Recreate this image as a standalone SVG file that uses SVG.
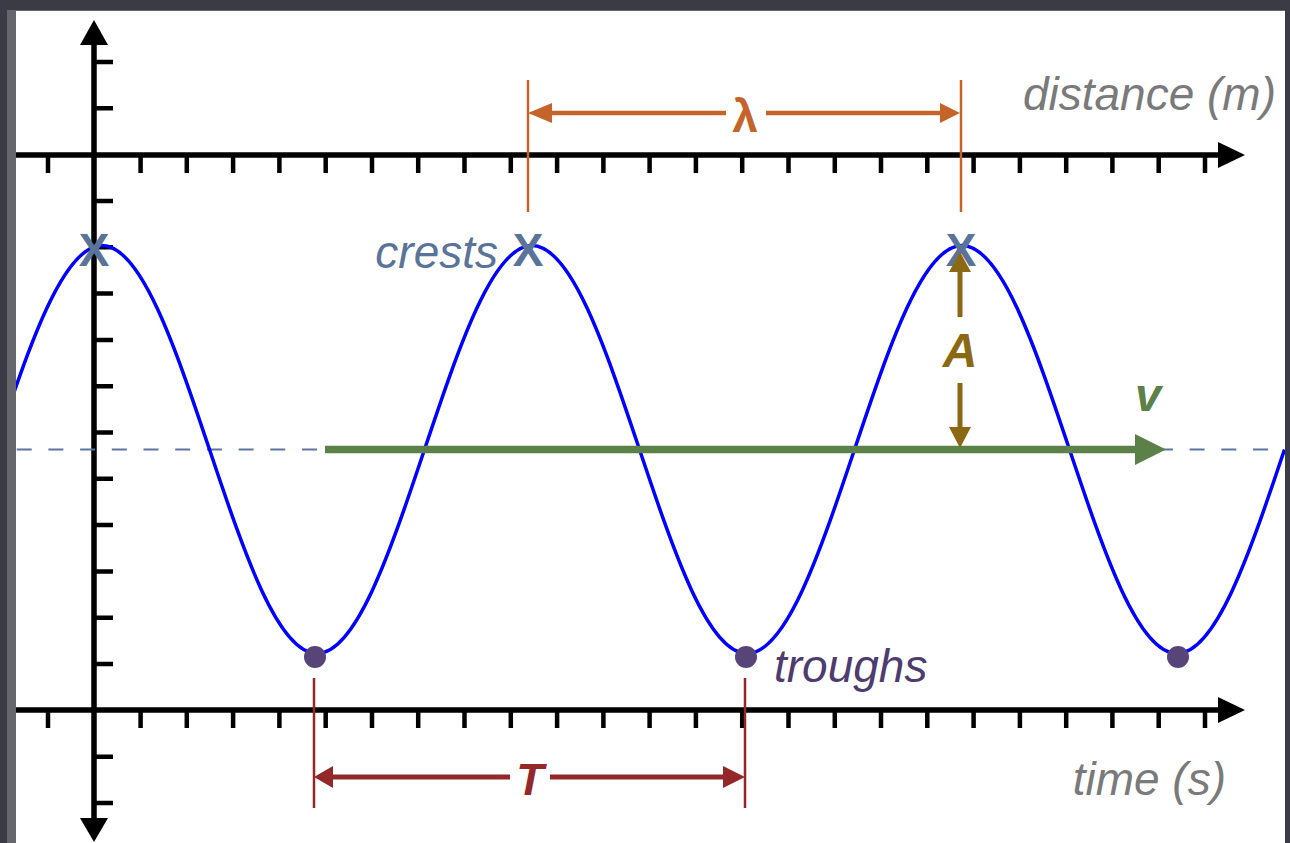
<svg xmlns="http://www.w3.org/2000/svg" width="1290" height="843" viewBox="0 0 1290 843">
<style>
.lbl{font-family:"Liberation Sans",Arial,sans-serif;font-style:italic;font-size:46px}
.sym{font-family:"Liberation Sans",Arial,sans-serif;font-weight:bold;font-style:italic}
.axis{stroke:#000;stroke-width:5.5;fill:none}
.tick{stroke:#000;stroke-width:4.5;fill:none}
</style>
<defs>
<clipPath id="plot"><rect x="16" y="11" width="1269" height="832"/></clipPath>
<path id="hticks" d="M48 155v18M140.6 155v18M186.8 155v18M233.1 155v18M279.4 155v18M325.7 155v18M372 155v18M418.2 155v18M464.5 155v18M510.8 155v18M557.1 155v18M603.4 155v18M649.6 155v18M695.9 155v18M742.2 155v18M788.5 155v18M834.8 155v18M881 155v18M927.3 155v18M973.6 155v18M1019.9 155v18M1066.2 155v18M1112.4 155v18M1158.7 155v18M1205 155v18"/>
</defs>
<rect x="0" y="0" width="1290" height="843" fill="#3b3b46"/>
<rect x="7" y="10" width="1278" height="833" fill="#66666d"/>
<rect x="16" y="11" width="1269" height="832" fill="#ffffff"/>

<g id="axes">
<use href="#hticks" class="tick"/>
<use href="#hticks" class="tick" transform="translate(0 555)"/>
<path class="tick" d="M94 62h19M94 108.3h19M94 200.9h19M94 247.2h19M94 293.6h19M94 339.9h19M94 386.2h19M94 432.5h19M94 478.8h19M94 525.1h19M94 571.4h19M94 617.7h19M94 664h19M94 756.7h19M94 803h19"/>
<path class="axis" d="M16 155H1222M16 710H1222M94 40V822"/>
<polygon points="94,20 108,45 80,45" fill="#000"/>
<polygon points="94,842 108,818 80,818" fill="#000"/>
<polygon points="1245,155 1218,142 1218,168" fill="#000"/>
<polygon points="1245,710 1218,697 1218,723" fill="#000"/>
<text class="lbl" x="1276" y="110" text-anchor="end" fill="#7a7a7a">distance (m)</text>
<text class="lbl" x="1226" y="795" text-anchor="end" fill="#7a7a7a">time (s)</text>
</g>

<g id="midline">
<path d="M16.7 449.5H1284" stroke="#5b76a0" stroke-width="2.2" stroke-dasharray="15 16.7" fill="none"/>
</g>

<g id="wave" clip-path="url(#plot)">
<path d="M-5.5 449.5c35.06 -104.5 68.6 -204 107.5 -204c38.9 0 72.44 99.5 107.5 204c35.06 104.5 68.6 204 107.5 204c38.9 0 72.44 -99.5 107.5 -204c35.06 -104.5 68.6 -204 107.5 -204c38.9 0 72.44 99.5 107.5 204c35.06 104.5 68.6 204 107.5 204c38.9 0 72.44 -99.5 107.5 -204c35.06 -104.5 68.6 -204 107.5 -204c38.9 0 72.44 99.5 107.5 204c35.06 104.5 68.6 204 107.5 204c38.9 0 72.44 -99.5 107.5 -204" stroke="#0000ff" stroke-width="3.5" fill="none"/>
</g>

<g id="crests" fill="#5a7399">
<text class="sym" style="font-style:normal" x="94" y="266" font-size="46" text-anchor="middle">X</text>
<text class="sym" style="font-style:normal" x="528" y="266" font-size="46" text-anchor="middle">X</text>
<text class="sym" style="font-style:normal" x="961" y="266" font-size="46" text-anchor="middle">X</text>
<text class="lbl" x="498" y="268" text-anchor="end">crests</text>
</g>

<g id="troughs" fill="#574478">
<circle cx="315" cy="657" r="11"/>
<circle cx="746" cy="657" r="11"/>
<circle cx="1178" cy="657" r="11"/>
<text class="lbl" x="774" y="682" fill="#4f3c6e">troughs</text>
</g>

<g id="connectors">
<g id="wavelength" stroke="#c5642a" fill="#c5642a">
<path d="M528 80V212M961 80V212" stroke-width="2.5" fill="none"/>
<path d="M550 113H726M766 113H942" stroke-width="4.5" fill="none"/>
<polygon points="528,113 552,103 552,123" stroke="none"/>
<polygon points="960,113 940,103 940,123" stroke="none"/>
<text x="745" y="132" font-family="Liberation Sans,Arial,sans-serif" font-weight="bold" font-size="46" text-anchor="middle" stroke="none">λ</text>
</g>
<g id="period" stroke="#93272a" fill="#93272a">
<path d="M314 678V808M745 678V808" stroke-width="2.5" fill="none"/>
<path d="M331 777H510M550 777H725" stroke-width="5" fill="none"/>
<polygon points="314,777 333,766 333,788" stroke="none"/>
<polygon points="745,777 723,766 723,788" stroke="none"/>
<text class="sym" x="530" y="795" font-size="45" text-anchor="middle" stroke="none">T</text>
</g>
<g id="velocity" fill="#5b8048">
<path d="M325 449.5H1137" stroke="#5b8048" stroke-width="7.5" fill="none"/>
<polygon points="1135,434 1166,449.5 1135,465"/>
<text class="sym" x="1148" y="411" font-size="47" text-anchor="middle">v</text>
</g>
<g id="amplitude" stroke="#8b6914" fill="#8b6914">
<path d="M960 270V317M960 383V429" stroke-width="5" fill="none"/>
<polygon points="960,252 971,272 949,272" stroke="none"/>
<polygon points="960,448 971,427 949,427" stroke="none"/>
<text class="sym" x="960" y="367" font-size="48" text-anchor="middle" stroke="none">A</text>
</g>
</g>
</svg>
